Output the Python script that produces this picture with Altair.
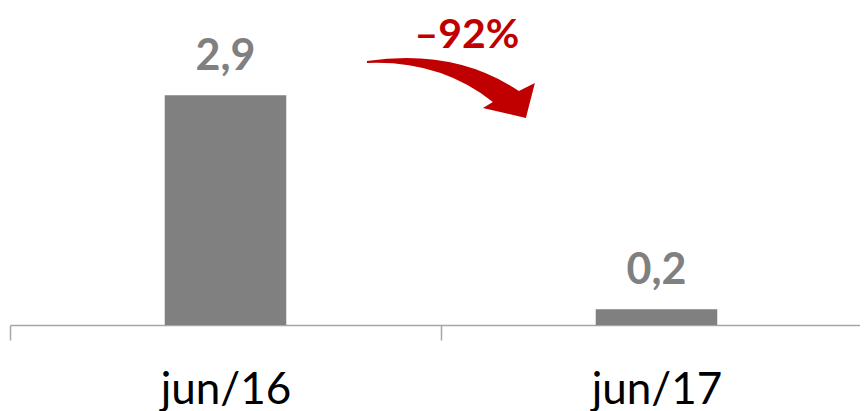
import altair as alt
import pandas as pd

# ---- data ----
categories = ["jun/16", "jun/17"]
values = [2.9, 0.2]
value_labels = ["2,9", "0,2"]
change_label = "–92%"

GRAY = "#808080"
RED = "#C00000"
FONT = "Lato"

bars_df = pd.DataFrame({"period": categories, "value": values, "label": value_labels})

# annotation anchors (x in category-index units 0..2, y in value units)
annot_df = pd.DataFrame({"ax": [1.060], "ay": [3.49], "txt": [change_label]})
arrow_df = pd.DataFrame({"ax": [1.023], "ay": [2.965]})

# curved arrow shape, in the unit square [-1, 1]
ARROW_PATH = (
    "M-0.988,-0.341 Q0.047,-0.494 0.8,0.012 "
    "L0.988,-0.082 L0.882,0.329 L0.376,0.212 L0.494,0.141 "
    "Q-0.129,-0.353 -0.988,-0.318 Z"
)

X_RANGE = [0, 862]  # axis runs off the right edge, as in the original

x_band = alt.X(
    "period:N",
    sort=categories,
    title=None,
    scale=alt.Scale(paddingInner=0, paddingOuter=0, range=X_RANGE),
    axis=alt.Axis(
        labelAngle=0,
        labelFont=FONT,
        labelFontSize=44,
        labelColor="#000000",
        labelPadding=28,
        tickSize=15,
        tickBand="extent",
        tickColor="#A6A6A6",
        tickWidth=1.5,
        domainColor="#A6A6A6",
        domainWidth=1.5,
        grid=False,
    ),
)
y_val = alt.Y("value:Q", scale=alt.Scale(domain=[0, 4], nice=False), axis=None, title=None)

bars = alt.Chart(bars_df).mark_bar(
    color=GRAY, width=alt.RelativeBandSize(0.282)
).encode(x=x_band, y=y_val)

bar_text = alt.Chart(bars_df).mark_text(
    font=FONT, fontSize=43, fontWeight="bold", color=GRAY, baseline="alphabetic", dy=-25
).encode(x=x_band, y=y_val, text="label:N")

x_q = alt.X("ax:Q", scale=alt.Scale(domain=[0, 2], nice=False, zero=False, range=X_RANGE),
            axis=None, title=None)
y_q = alt.Y("ay:Q", scale=alt.Scale(domain=[0, 4], nice=False), axis=None, title=None)

change_text = alt.Chart(annot_df).mark_text(
    font=FONT, fontSize=41, fontWeight="bold", color=RED, baseline="alphabetic", align="center"
).encode(x=x_q, y=y_q, text="txt:N")

arrow = alt.Chart(arrow_df).mark_point(
    shape=ARROW_PATH, filled=True, color=RED, opacity=1, strokeWidth=0, size=28900
).encode(x=x_q, y=y_q)

base = alt.layer(bars, bar_text).resolve_scale(x="shared")
annot = alt.layer(change_text, arrow)

chart = (
    alt.layer(base, annot)
    .resolve_scale(x="independent", y="shared")
    .properties(
        width=850,
        height=317,
        padding={"left": 2, "top": 0, "right": 0, "bottom": 86},
        autosize=alt.AutoSizeParams(type="none"),
    )
    .configure_view(stroke=None)
)

chart.save("out.html", embed_options={"renderer": "svg", "actions": False})
